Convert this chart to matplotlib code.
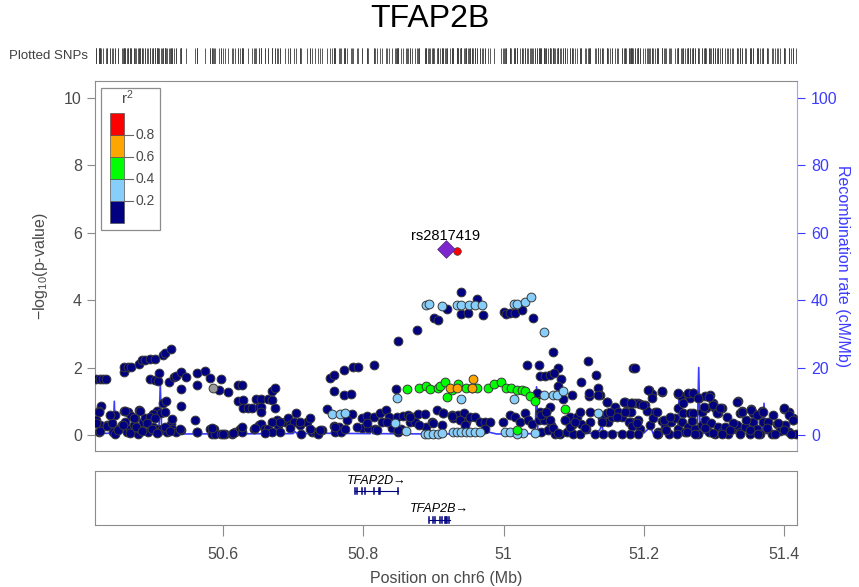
import matplotlib
matplotlib.use('Agg')
import matplotlib.pyplot as plt
from matplotlib.patches import Rectangle

plt.rcParams['font.family'] = ['Liberation Sans', 'DejaVu Sans']
plt.rcParams['mathtext.default'] = 'regular'

# ---- SNP data (position in Mb, -log10 p), grouped by r2 bin ----
navy_pos = [
    50.420, 50.425, 50.430, 50.433, 50.460, 50.460, 50.465, 50.469, 50.480, 50.485, 50.489, 50.496, 50.503,
    50.515, 50.518, 50.526, 50.496, 50.503, 50.508, 50.509, 50.523, 50.530, 50.534, 50.541, 50.547, 50.540,
    50.563, 50.575, 50.582, 50.564, 50.598, 50.595, 50.608, 50.622, 50.627, 50.670, 50.622, 50.629, 50.629,
    50.636, 50.641, 50.648, 50.655, 50.665, 50.651, 50.655, 50.654, 50.670, 50.427, 50.424, 50.446, 50.460,
    50.465, 50.469, 50.481, 50.506, 50.501, 50.512, 50.515, 50.519, 50.540, 50.560,
    50.420, 50.425, 50.423, 50.435, 50.439, 50.444, 50.446, 50.451, 50.456, 50.461, 50.463, 50.468, 50.473,
    50.475, 50.479, 50.482, 50.487, 50.489, 50.494, 50.496, 50.501, 50.506, 50.508, 50.513, 50.518, 50.520,
    50.526, 50.528, 50.534, 50.540, 50.563, 50.582, 50.584, 50.587, 50.589, 50.598, 50.603, 50.613, 50.617,
    50.625, 50.627, 50.644, 50.651, 50.655, 50.660, 50.665, 50.670,
    50.674, 50.674, 50.677, 50.679, 50.682, 50.689, 50.693, 50.696, 50.701, 50.705, 50.710, 50.712, 50.720,
    50.724, 50.727, 50.731, 50.736, 50.741, 50.748, 50.758, 50.760, 50.765, 50.769, 50.774, 50.784, 50.798,
    50.805, 50.798, 50.807, 50.816, 50.817, 50.824, 50.827, 50.833, 50.837, 50.841, 50.848, 50.850, 50.854,
    50.857, 50.864, 50.867, 50.869, 50.874, 50.878, 50.888, 50.890, 50.898, 50.905, 50.912, 50.914, 50.926,
    50.928, 50.753, 50.758, 50.759, 50.772, 50.773, 50.783, 50.786, 50.792, 50.816, 50.849, 50.876, 50.901,
    50.907, 50.919, 50.847,
    50.939, 50.962, 50.939, 50.950, 50.970, 51.001, 51.004, 51.009, 51.016, 51.026, 51.042, 51.071, 51.034,
    51.050, 51.120, 51.185, 51.078, 51.052, 51.059, 51.066, 51.072, 51.082, 51.111, 51.131, 51.077, 51.135,
    51.097, 51.121, 51.137, 51.147, 51.084, 51.047,
    50.935, 50.943, 50.947, 50.952, 50.959, 50.966, 50.974, 50.981, 50.999, 51.009, 51.016, 51.023, 51.031,
    51.035, 51.040, 51.050, 51.052, 51.057, 51.061, 51.066, 51.068, 51.088, 51.095, 51.097, 51.104, 51.111,
    51.123, 51.123, 51.140, 51.147, 51.149, 51.154, 51.159, 51.163, 51.168, 51.173, 51.178, 51.182, 51.187,
    50.973, 51.054, 51.064, 51.073, 51.080, 51.090, 51.099, 51.109, 51.118, 51.130, 51.142, 51.154, 51.168,
    51.180,
    51.187, 51.207, 51.211, 51.226, 51.249, 51.253, 51.263, 51.270, 51.266, 51.278, 51.287, 51.294, 51.334,
    51.175, 51.183, 51.191, 51.194, 51.201, 51.204, 51.182, 51.173, 51.216, 51.249, 51.256, 51.266, 51.270,
    51.282, 51.289, 51.299, 51.301, 51.311, 51.306, 51.339, 51.337, 51.352, 51.356, 51.368, 51.363, 51.400,
    51.406, 51.413,
    51.178, 51.183, 51.192, 51.194, 51.209, 51.213, 51.220, 51.225, 51.230, 51.235, 51.239, 51.244, 51.249,
    51.254, 51.258, 51.263, 51.268, 51.273, 51.277, 51.282, 51.287, 51.292, 51.296, 51.301, 51.306, 51.311,
    51.315, 51.320, 51.325, 51.332, 51.337, 51.344, 51.351, 51.356, 51.361, 51.365, 51.370, 51.375, 51.382,
    51.389, 51.394, 51.401, 51.406, 51.413, 51.417, 51.192, 51.220,
    51.147, 51.152, 51.161, 51.171, 51.182, 51.190, 51.199, 51.206, 51.211, 51.218, 51.225, 51.228, 51.237,
    51.249, 51.256, 51.263, 51.270, 51.277, 51.285, 51.292, 51.299, 51.304, 51.308, 51.318, 51.327, 51.333,
    51.339, 51.346, 51.353, 51.361, 51.370, 51.377, 51.384, 51.391, 51.399, 51.406, 51.413,
    51.218, 51.232, 51.247, 51.261, 51.273, 51.287, 51.299, 51.311, 51.323, 51.337, 51.351, 51.363, 51.375,
    51.387, 51.399, 51.410,
    51.048, 51.054, 51.061, 51.066, 51.071, 51.078, 51.088, 51.095, 51.102, 51.109, 51.116, 51.121, 51.135,
    51.140,
    50.420, 50.425, 50.435, 50.442, 50.451, 50.458, 50.468, 50.477, 50.485, 50.492, 50.499, 50.506, 50.518,
    50.525, 50.539, 50.563, 50.584, 50.601, 50.615, 50.627, 50.646, 50.660, 50.670, 50.682, 50.696, 50.710,
    50.724, 50.739, 50.760, 50.777, 50.791, 50.805, 50.819, 50.834, 50.850, 50.867, 50.879, 50.900, 50.914,
    50.926, 50.938, 50.945,
    50.423, 50.439, 50.461, 50.473, 50.482, 50.504, 50.518, 50.527,
]
navy_logp = [
    1.65, 1.65, 1.65, 1.65, 1.86, 2.03, 2.03, 2.03, 2.12, 2.22, 2.22, 2.25, 2.25,
    2.37, 2.42, 2.55, 1.66, 1.63, 1.60, 1.85, 1.56, 1.72, 1.75, 1.86, 1.72, 1.36,
    1.84, 1.90, 1.68, 1.48, 1.66, 1.33, 1.28, 1.48, 1.48, 1.30, 1.00, 1.03, 0.81,
    0.81, 0.81, 1.07, 1.07, 1.07, 0.84, 0.84, 0.69, 1.03, 0.87, 0.71, 0.59, 0.71,
    0.69, 0.57, 0.73, 0.72, 0.61, 0.64, 0.94, 1.01, 0.87, 0.44,
    0.44, 0.29, 0.09, 0.29, 0.31, 0.09, 0.04, 0.19, 0.29, 0.39, 0.09, 0.19, 0.29,
    0.49, 0.04, 0.19, 0.39, 0.49, 0.09, 0.54, 0.24, 0.17, 0.09, 0.19, 0.14, 0.09,
    0.34, 0.19, 0.09, 0.14, 0.09, 0.19, 0.02, 0.19, 0.02, 0.02, 0.02, 0.04, 0.09,
    0.19, 0.09, 0.19, 0.31, 0.34, 0.19, 0.19, 0.09,
    1.38, 0.81, 0.44, 0.29, 0.09, 0.39, 0.49, 0.29, 0.39, 0.64, 0.29, 0.02, 0.39,
    0.49, 0.09, 0.09, 0.04, 0.14, 0.77, 0.27, 0.09, 0.24, 0.09, 0.19, 0.61, 0.51,
    0.57, 0.21, 0.21, 0.54, 0.17, 0.66, 0.39, 0.74, 0.54, 0.21, 0.54, 0.09, 0.19,
    0.57, 0.59, 0.39, 0.54, 0.39, 0.61, 0.61, 0.24, 0.39, 0.74, 0.31, 0.66, 0.59,
    0.51, 1.70, 1.78, 1.30, 1.92, 1.18, 1.22, 2.01, 2.03, 2.07, 2.80, 3.11, 3.46,
    3.41, 3.73, 1.36,
    4.25, 4.03, 3.58, 3.63, 3.56, 3.66, 3.59, 3.61, 3.61, 3.71, 3.46, 2.45, 2.07,
    2.07, 2.19, 1.99, 1.99, 1.76, 1.76, 1.78, 1.83, 1.66, 1.58, 1.78, 1.45, 1.38,
    1.20, 1.16, 1.20, 0.97, 1.08, 1.20,
    0.59, 0.64, 0.39, 0.54, 0.54, 0.39, 0.39, 0.39, 0.39, 0.59, 0.54, 0.39, 0.64,
    0.44, 0.34, 0.44, 0.69, 0.44, 0.69, 0.84, 0.29, 0.44, 0.54, 0.29, 0.54, 0.34,
    0.69, 0.39, 0.49, 0.64, 0.39, 0.54, 0.84, 0.69, 0.54, 0.98, 0.69, 0.39, 0.94,
    0.17, 0.09, 0.14, 0.02, 0.02, 0.09, 0.04, 0.02, 0.19, 0.04, 0.02, 0.04, 0.04,
    0.04,
    1.99, 1.33, 1.23, 1.28, 1.23, 1.15, 1.20, 1.26, 1.10, 1.10, 1.16, 1.18, 1.00,
    0.96, 0.96, 0.94, 0.92, 0.89, 0.71, 0.69, 0.67, 0.67, 0.79, 0.64, 0.64, 0.64,
    0.69, 0.79, 0.94, 0.81, 0.81, 0.64, 0.71, 0.64, 0.77, 0.64, 0.71, 0.59, 0.77,
    0.69, 0.51,
    0.39, 0.27, 0.44, 0.19, 0.29, 0.49, 0.09, 0.41, 0.24, 0.02, 0.39, 0.49, 0.19,
    0.39, 0.09, 0.24, 0.41, 0.19, 0.02, 0.29, 0.44, 0.09, 0.37, 0.02, 0.24, 0.09,
    0.24, 0.02, 0.19, 0.29, 0.09, 0.24, 0.02, 0.39, 0.19, 0.02, 0.39, 0.19, 0.02,
    0.34, 0.11, 0.29, 0.09, 0.44, 0.02, 0.02, 0.02,
    0.99, 0.69, 0.54, 0.99, 0.94, 0.35, 0.89, 1.34, 1.09, 0.69, 1.29, 0.44, 0.54,
    1.24, 0.94, 1.24, 1.24, 1.09, 0.84, 1.14, 0.89, 0.64, 0.79, 0.54, 0.35, 0.99,
    0.69, 0.44, 0.74, 0.59, 0.69, 0.39, 0.59, 0.35, 0.79, 0.59, 0.44,
    0.02, 0.15, 0.02, 0.10, 0.02, 0.20, 0.05, 0.02, 0.15, 0.02, 0.15, 0.02, 0.20,
    0.02, 0.15, 0.02,
    1.24, 0.59, 0.69, 0.44, 0.20, 0.05, 0.44, 0.25, 0.39, 0.69, 0.20, 1.24, 1.19,
    0.39,
    0.35, 0.13, 0.27, 0.35, 0.15, 0.30, 0.05, 0.23, 0.13, 0.35, 0.17, 0.05, 0.23,
    0.13, 0.17, 0.10, 0.20, 0.02, 0.05, 0.23, 0.20, 0.05, 0.40, 0.40, 0.20, 0.40,
    0.17, 0.15, 0.23, 0.45, 0.23, 0.35, 0.15, 0.40, 0.15, 0.54, 0.30, 0.35, 0.66,
    0.56, 0.45, 0.30,
    0.69, 0.59, 0.72, 0.49, 0.72, 0.49, 0.69, 0.46,
]

lblue_pos = [50.755, 50.767, 50.774, 50.845, 50.861, 50.848, 50.890, 50.894, 50.912,
             50.888, 50.893, 50.900, 50.907, 50.913, 50.928,
             50.933, 50.940, 50.951, 50.960, 50.969, 51.015, 51.019, 51.030, 51.039, 51.058,
             51.058, 51.071, 51.076, 51.085, 50.940, 51.015, 51.134,
             51.002, 51.009, 51.028, 51.045, 51.019, 50.933, 50.940, 50.947, 50.952, 50.959, 50.966]
lblue_logp = [0.61, 0.61, 0.64, 0.37, 0.11, 1.10, 3.86, 3.90, 3.84,
              0.02, 0.02, 0.02, 0.04, 0.06, 0.09,
              3.86, 3.86, 3.86, 3.86, 3.86, 3.90, 3.90, 3.94, 4.08, 3.06,
              1.20, 1.20, 1.20, 1.30, 1.06, 1.06, 0.66,
              0.09, 0.09, 0.07, 0.07, 0.02, 0.09, 0.09, 0.09, 0.09, 0.09, 0.09]

green_pos = [50.862, 50.879, 50.889, 50.895, 50.906, 50.909, 50.917, 50.920, 50.926,
             50.935, 50.947, 50.955, 50.962, 50.978, 50.987, 50.996, 51.004, 51.011, 51.019,
             51.026, 51.031, 51.038, 51.045, 51.087, 51.019]
green_logp = [1.36, 1.38, 1.46, 1.36, 1.40, 1.44, 1.56, 1.13, 1.33,
              1.50, 1.40, 1.40, 1.40, 1.40, 1.50, 1.56, 1.40, 1.40, 1.33,
              1.33, 1.30, 1.15, 1.01, 0.76, 0.14]

orange_pos = [50.923, 50.933, 50.955, 50.956]
orange_logp = [1.40, 1.40, 1.40, 1.66]

red_pos = [50.934]
red_logp = [5.46]

gray_pos = [50.586]
gray_logp = [1.40]

lead_name = 'rs2817419'
lead_pos = 50.918
lead_logp = 5.52

# r2 legend bins
ld_breaks = [0.0, 0.2, 0.4, 0.6, 0.8, 1.0]
ld_colors = ['#000080', '#87CEFA', '#00FF00', '#FFA500', '#FF0000']

# recombination rate (cM/Mb)
rec_pos = [50.418, 50.444, 50.4455, 50.447, 50.509, 50.511, 50.513, 50.525, 50.527, 50.530, 50.540,
           50.700, 50.703, 50.706, 50.744, 50.746, 50.748, 50.810, 50.812, 50.814, 50.900, 50.970,
           50.980, 50.990, 51.045, 51.047, 51.049, 51.130, 51.137, 51.140, 51.142, 51.200, 51.207,
           51.211, 51.213, 51.248, 51.250, 51.252, 51.276, 51.278, 51.280, 51.369, 51.371, 51.373,
           51.418]
rec_rate = [0.5, 0.5, 10.0, 0.8, 0.6, 15.3, 1.0, 1.0, 5.0, 0.5, 0.3,
            0.4, 1.0, 0.4, 0.5, 2.0, 0.5, 0.4, 1.5, 0.4, 0.3, 0.3,
            0.8, 0.3, 0.4, 14.3, 0.5, 0.5, 1.5, 3.0, 0.8, 0.6, 2.0,
            1.5, 0.5, 0.5, 11.3, 0.5, 0.5, 20.0, 0.5, 0.5, 9.4, 0.5,
            0.5]

# genes
gene_names = ['TFAP2D', 'TFAP2B']
gene_start = [50.788, 50.894]
gene_end = [50.850, 50.924]
gene_exons = [[50.789, 50.791, 50.798, 50.803, 50.815, 50.822, 50.824, 50.850],
              [50.894, 50.899, 50.903, 50.910, 50.913, 50.916, 50.918, 50.920, 50.922]]

xticks = [50.6, 50.8, 51.0, 51.2, 51.4]
xtick_labels = ['50.6', '50.8', '51', '51.2', '51.4']

xmin, xmax = 50.418, 51.418
W, H = 859, 587
grey_txt = '#4a4a4a'
frame = '#8c8c8c'
rec_blue = '#3c3cff'

fig = plt.figure(figsize=(W / 100, H / 100), dpi=100)

# title
fig.text(430 / W, 1 - 19 / H, 'TFAP2B', ha='center', va='center', fontsize=23)

# plotted SNPs rug
axr = fig.add_axes([95 / W, 1 - 64 / H, 702 / W, 16 / H])
all_pos = navy_pos + lblue_pos + green_pos + orange_pos + red_pos + gray_pos + [lead_pos]
axr.vlines(all_pos, 0, 1, color='#404040', lw=0.6)
axr.set_xlim(xmin, xmax)
axr.set_ylim(0, 1)
axr.axis('off')
fig.text(88 / W, 1 - 56 / H, 'Plotted SNPs', ha='right', va='center', fontsize=9.5, color='#404040')

# main association panel
ax = fig.add_axes([95 / W, 1 - 451 / H, 702 / W, 370 / H])
ax2 = ax.twinx()
ax.set_zorder(ax2.get_zorder() + 1)
ax.patch.set_visible(False)

ylo, yhi = -0.475, 10.5
ax2.plot(rec_pos, rec_rate, color=rec_blue, lw=1.2)
ax2.set_ylim(ylo * 10, yhi * 10)
ax2.set_yticks([0, 20, 40, 60, 80, 100])
ax2.tick_params(axis='y', colors=rec_blue, labelsize=11.5, length=6, width=0.8, pad=4)
ax2.set_ylabel('Recombination rate (cM/Mb)', color=rec_blue, fontsize=11.5, rotation=270, labelpad=9)
for s in ax2.spines.values():
    s.set_visible(False)
ax2.spines['right'].set_visible(True)
ax2.spines['right'].set_color('#a0a0ff')

pt = dict(s=40, edgecolors='#3a3a3a', linewidths=0.7, zorder=3)
ax.scatter(navy_pos, navy_logp, c=ld_colors[0], **pt)
ax.scatter(gray_pos, gray_logp, c='#9a9a9a', **pt)
ax.scatter(lblue_pos, lblue_logp, c=ld_colors[1], **pt)
ax.scatter(green_pos, green_logp, c=ld_colors[2], **pt)
ax.scatter(orange_pos, orange_logp, c=ld_colors[3], **pt)
ax.scatter(red_pos, red_logp, c=ld_colors[4], s=30, edgecolors='#3a3a3a', linewidths=0.5, zorder=3)
ax.scatter([lead_pos], [lead_logp], marker='D', s=80, c='#7D26CD', edgecolors='#5a2a8a',
           linewidths=0.6, zorder=4)
ax.text(lead_pos, lead_logp + 0.38, lead_name, ha='center', va='center', fontsize=10.5)

ax.set_xlim(xmin, xmax)
ax.set_ylim(ylo, yhi)
ax.set_xticks([])
ax.set_yticks([0, 2, 4, 6, 8, 10])
ax.tick_params(axis='y', colors=frame, labelcolor=grey_txt, labelsize=11.5, length=6, width=0.8)
ax.set_ylabel('\u2212log$_{10}$(p-value)', fontsize=11.5, color=grey_txt, labelpad=10)
for name in ['left', 'top', 'bottom']:
    ax.spines[name].set_color(frame)
ax.spines['right'].set_visible(False)

# r2 legend box
ax.add_patch(Rectangle((0.0085, 0.597), 0.084, 0.384, transform=ax.transAxes,
                       facecolor='white', edgecolor=frame, lw=0.9, zorder=5))
seg_h = 0.0595
for i, col in enumerate(ld_colors):
    ax.add_patch(Rectangle((0.0214, 0.616 + i * seg_h), 0.020, seg_h, transform=ax.transAxes,
                           facecolor=col, edgecolor='#555555', lw=0.5, zorder=6))
for i, b in enumerate(ld_breaks[1:-1]):
    yb = 0.616 + (i + 1) * seg_h
    ax.plot([0.0414, 0.054], [yb, yb], transform=ax.transAxes, color='#666666', lw=0.8, zorder=6)
    ax.text(0.057, yb, f'{b:.1f}', transform=ax.transAxes, ha='left', va='center',
            fontsize=10, color=grey_txt, zorder=6)
ax.text(0.046, 0.955, 'r$^2$', transform=ax.transAxes, ha='center', va='center',
        fontsize=11, color=grey_txt, zorder=6)

# gene panel
axg = fig.add_axes([95 / W, 1 - 525 / H, 702 / W, 54 / H])
axg.set_xlim(xmin, xmax)
axg.set_ylim(0, 1)
gene_y = [0.63, 0.09]
label_y = [0.82, 0.30]
for i, g in enumerate(gene_names):
    axg.plot([gene_start[i], gene_end[i]], [gene_y[i], gene_y[i]], color='#000080', lw=0.8)
    for e in gene_exons[i]:
        axg.plot([e, e], [gene_y[i] - 0.05, gene_y[i] + 0.05], color='#000080', lw=1.1)
    axg.text((gene_start[i] + gene_end[i]) / 2, label_y[i], g + '\u2192', ha='center', va='center',
             fontsize=9, style='italic')
axg.set_yticks([])
axg.set_xticks(xticks)
axg.set_xticklabels(xtick_labels)
axg.tick_params(axis='x', colors=frame, labelcolor=grey_txt, labelsize=11.5, length=8, width=0.8, pad=8)
axg.set_xlabel('Position on chr6 (Mb)', fontsize=11.5, color=grey_txt, labelpad=6)
for s in axg.spines.values():
    s.set_color(frame)

fig.savefig('out.png', dpi=100)
